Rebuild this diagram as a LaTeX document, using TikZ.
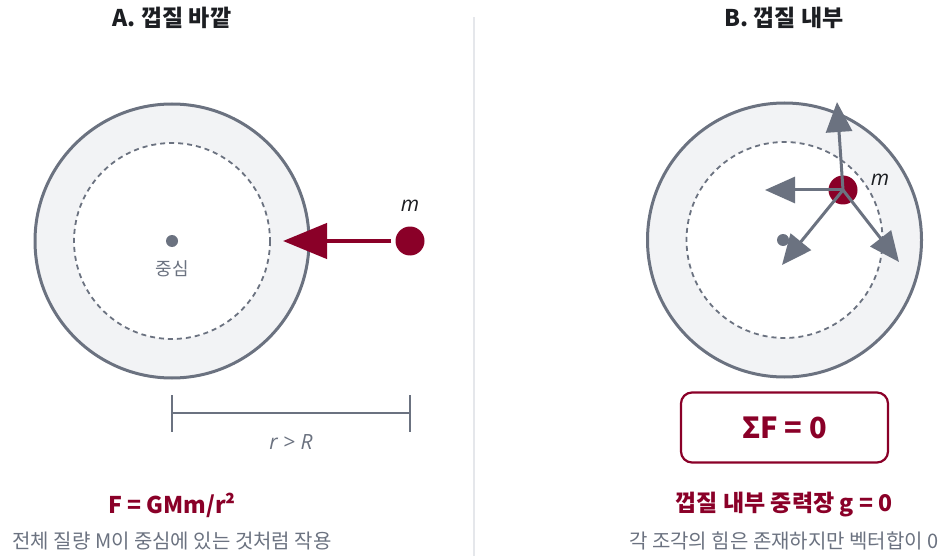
\documentclass[tikz,border=0pt]{standalone}
\usepackage{fontspec}
\setmainfont{Noto Sans CJK KR}
\newfontfamily\latinf{Open Sans}
\usetikzlibrary{arrows.meta}
\definecolor{crimson}{RGB}{138,0,40}
\definecolor{slate}{RGB}{107,114,128}
\definecolor{shell}{RGB}{242,243,245}
\definecolor{ink}{RGB}{28,30,34}
\definecolor{divider}{RGB}{229,231,235}
\tikzset{
  outershell/.style={draw=slate, line width=3pt, fill=shell},
  innerdash/.style={draw=slate, line width=1.8pt, dash pattern=on 5pt off 4pt, fill=white},
  centerdot/.style={circle, fill=slate, inner sep=0pt, minimum size=12pt},
  massdot/.style={circle, fill=crimson, inner sep=0pt, minimum size=29pt},
  titletext/.style={text=ink, font=\fontsize{23}{27}\selectfont\bfseries},
  formula/.style={text=crimson, font=\fontsize{23}{27}\selectfont\bfseries},
  subtext/.style={text=slate, font=\fontsize{20}{24}\selectfont},
  mlabel/.style={text=ink, font=\latinf\fontsize{21}{24}\selectfont\itshape},
  forcearrow/.style={draw=slate, line width=3pt, -{Triangle[length=30pt,width=26pt]}},
}
\begin{document}
\begin{tikzpicture}[x=1pt,y=-1pt]
\useasboundingbox (0,0) rectangle (942,556);
% divider
\coordinate (dtop) at (474,17);
\coordinate (dbot) at (474,556);
\draw[divider, line width=1.5pt] (dtop) -- (dbot);

% ---------- Panel A ----------
\node[titletext] (titleA) at (172,18) {A. 껍질 바깥};
\draw[outershell] (172,241) circle[radius=137];
\draw[innerdash] (172,241) circle[radius=98];
\node[centerdot] (cA) at (172,241) {};
\node[text=slate, font=\fontsize{18}{21}\selectfont] (cAlabel) at (172,269) {중심};
\node[massdot] (mA) at (410,241) {};
\node[mlabel] (mAlabel) at (410,206) {m};
\coordinate (arrA) at (283,241);
\draw[crimson, line width=4.5pt, -{Triangle[length=44pt,width=35pt]}] (mA.west) ++(-4,0) -- (arrA);
% dimension
\coordinate (d1) at (172,413);
\coordinate (d2) at (410,413);
\draw[slate, line width=2pt] (d1) -- (d2);
\draw[slate, line width=2pt] (172,395) -- (172,432);
\draw[slate, line width=2pt] (410,395) -- (410,432);
\node[text=slate, font=\latinf\fontsize{21}{24}\selectfont\itshape] (rR) at (291,442) {r > R};
\node[formula] (fA) at (172,505) {F = GMm/r²};
\node[subtext] (sA) at (172,541) {전체 질량 M이 중심에 있는 것처럼 작용};

% ---------- Panel B ----------
\node[titletext] (titleB) at (784,18) {B. 껍질 내부};
\draw[outershell] (784.5,240) circle[radius=137];
\draw[innerdash] (784.5,240) circle[radius=98];
\node[centerdot] (cB) at (783,240) {};
\node[massdot] (mB) at (843,190) {};
\node[mlabel] (mBlabel) at (880,180) {m};
\coordinate (t1) at (837,102);
\coordinate (t2) at (765,190);
\coordinate (t3) at (782,265);
\coordinate (t4) at (899,262);
\draw[forcearrow] (mB.center) -- (t1);
\draw[forcearrow] (mB.center) -- (t2);
\draw[forcearrow] (mB.center) -- (t3);
\draw[forcearrow] (mB.center) -- (t4);
\node[draw=crimson, line width=2.2pt, rounded corners=11pt, minimum width=207pt, minimum height=70pt, text=crimson, font=\fontsize{29}{33}\selectfont\bfseries] (sumbox) at (784.5,427.5) {ΣF = 0};
\node[formula] (fB) at (784,505) {껍질 내부 중력장 g = 0};
\node[subtext] (sB) at (784,541) {각 조각의 힘은 존재하지만 벡터합이 0};
\end{tikzpicture}
\end{document}
